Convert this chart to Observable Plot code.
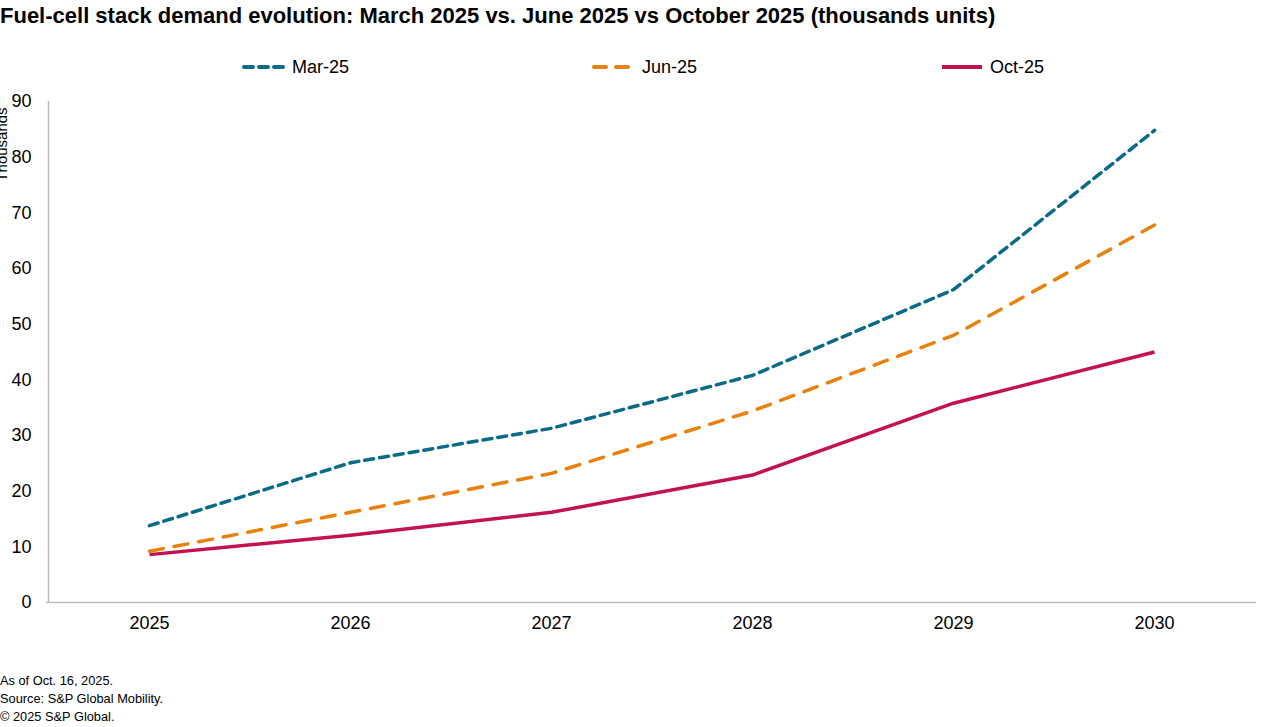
<!DOCTYPE html>
<html>
<head>
<meta charset="utf-8">
<script src="https://cdn.jsdelivr.net/npm/d3@7"></script>
<script src="https://cdn.jsdelivr.net/npm/@observablehq/plot@0.6"></script>
<style>
  html, body { margin: 0; padding: 0; background: #fff; }
  body { width: 1280px; height: 727px; position: relative; overflow: hidden; font-family: "Liberation Sans", Arial, sans-serif; color: #000; }
  #title { position: absolute; left: 0; top: 3px; font-size: 22px; font-weight: bold; white-space: nowrap; }
  #legend { position: absolute; left: 0; top: 54px; width: 1280px; height: 26px; }
  .item { position: absolute; top: 0; display: flex; align-items: center; font-size: 18px; height: 26px; }
  .item svg { margin-right: 6px; }
  #chart { position: absolute; left: 0; top: 85px; }
  #ylab { position: absolute; left: -36px; top: 136px; font-size: 15px; transform: rotate(-90deg); transform-origin: center; white-space: nowrap; }
  #foot { position: absolute; left: 0; top: 672px; font-size: 12.8px; line-height: 18px; }
</style>
</head>
<body>
<div id="title">Fuel-cell stack demand evolution: March 2025 vs. June 2025 vs October 2025 (thousands units)</div>
<div id="legend"></div>
<div id="chart"></div>
<div id="ylab">Thousands</div>
<div id="foot">As of Oct. 16, 2025.<br>Source: S&amp;P Global Mobility.<br>© 2025 S&amp;P Global.</div>
<script>
const years = ["2025", "2026", "2027", "2028", "2029", "2030"];
const mar25 = [13.8, 25.1, 31.3, 40.8, 56.2, 84.8];
const jun25 = [9.2, 16.2, 23.2, 34.4, 48.0, 67.8];
const oct25 = [8.6, 12.1, 16.2, 22.9, 35.8, 45.0];
const seriesNames = ["Mar-25", "Jun-25", "Oct-25"];
const yTicks = [0, 10, 20, 30, 40, 50, 60, 70, 80, 90];

const colors = {"Mar-25": "#0a6b88", "Jun-25": "#e8820c", "Oct-25": "#c4124f"};
const dashes = {"Mar-25": "9,6", "Jun-25": "14,11", "Oct-25": null};

const rows = [];
[mar25, jun25, oct25].forEach((arr, i) => {
  arr.forEach((v, j) => rows.push({series: seriesNames[i], year: years[j], value: v}));
});

const lineMarks = seriesNames.map(s => Plot.line(rows.filter(d => d.series === s), {
  x: "year", y: "value",
  stroke: colors[s], strokeWidth: 3.5,
  strokeDasharray: dashes[s] || undefined,
  strokeLinecap: dashes[s] ? "round" : "butt",
  strokeLinejoin: "round"
}));

const chart = Plot.plot({
  width: 1280,
  height: 570,
  marginTop: 16,
  marginBottom: 53,
  marginLeft: 46,
  marginRight: 24,
  style: {fontFamily: "'Liberation Sans', Arial, sans-serif", fontSize: "18px", color: "#000", background: "#fff"},
  x: {type: "point", domain: years, padding: 0.5, label: null},
  y: {domain: [0, 90], label: null},
  marks: [
    Plot.axisX({tickSize: 0, tickPadding: 14, fontSize: 18}),
    Plot.axisY({ticks: yTicks, tickSize: 0, tickPadding: 15, fontSize: 18}),
    Plot.ruleX([years[0]], {y1: 0, y2: 90, dx: -101, stroke: "#bdbdbd", strokeWidth: 1.5}),
    Plot.ruleY([0], {stroke: "#bdbdbd", strokeWidth: 1.5}),
    ...lineMarks
  ]
});
document.getElementById("chart").appendChild(chart);

// Legend
const legendPos = [{name: "Mar-25", x: 242}, {name: "Jun-25", x: 592}, {name: "Oct-25", x: 940}];
const legend = document.getElementById("legend");
legendPos.forEach(p => {
  const div = document.createElement("div");
  div.className = "item";
  div.style.left = p.x + "px";
  const dash = dashes[p.name];
  div.innerHTML = `<svg width="44" height="10"><line x1="2" y1="5" x2="42" y2="5" stroke="${colors[p.name]}" stroke-width="4" ${dash ? `stroke-dasharray="${p.name === "Mar-25" ? "9,6" : "12,10"}" stroke-linecap="round"` : ""}/></svg><span>${p.name}</span>`;
  legend.appendChild(div);
});
</script>
</body>
</html>
